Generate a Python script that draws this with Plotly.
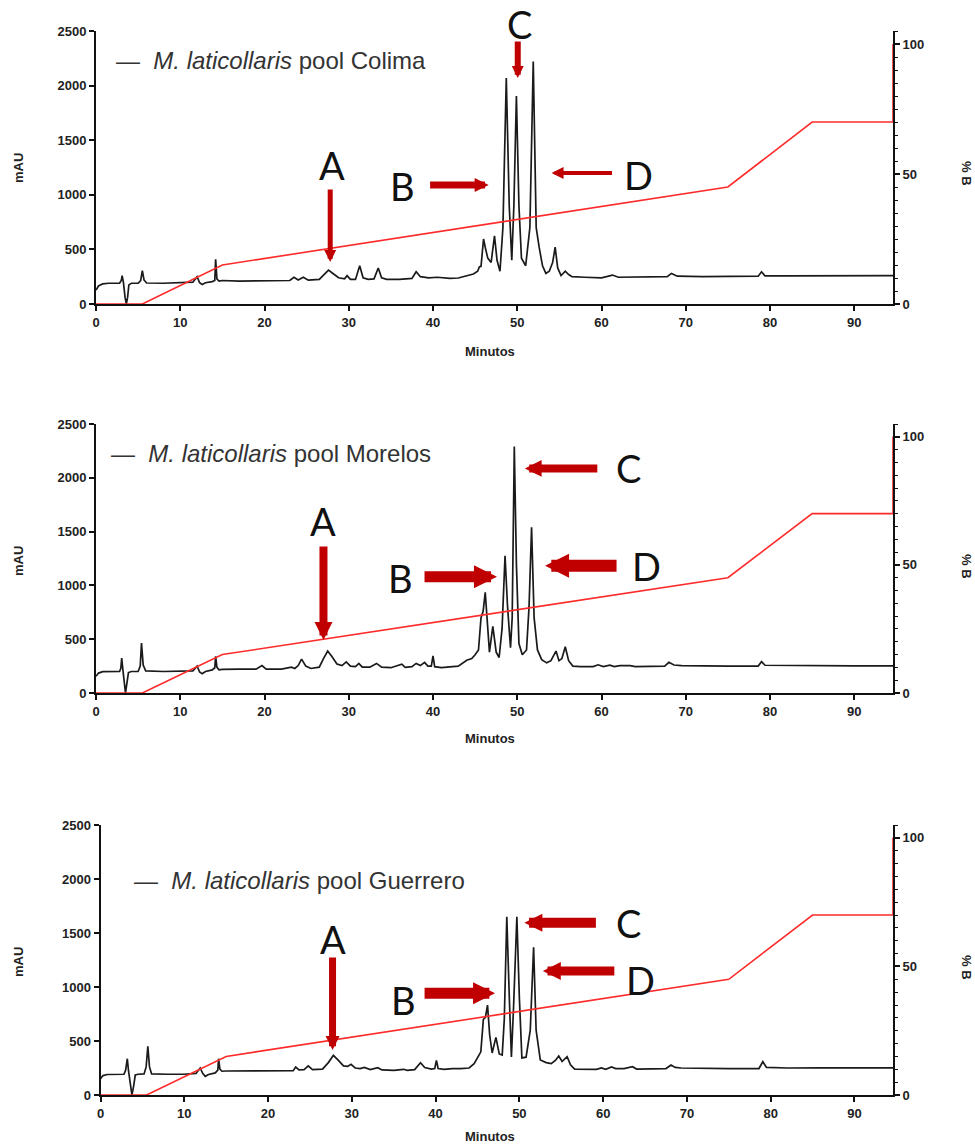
import plotly.graph_objects as go

# ---------------- data ----------------
X_TICKS = [0, 10, 20, 30, 40, 50, 60, 70, 80, 90]
MAU_TICKS = [0, 500, 1000, 1500, 2000, 2500]
B_TICKS = [0, 50, 100]

# solvent gradient (% B vs minutes)
GRADIENT_MIN = [0, 5.5, 15, 75, 85, 94.6, 94.6]
GRADIENT_B = [0, 0, 15, 45, 70, 70, 100]

COLIMA_MIN = [0, 0.3, 0.8, 1.5, 2.8, 3.0, 3.1, 3.25, 3.45, 3.6, 3.75, 3.9, 4.2, 5.0, 5.3, 5.5, 5.7, 6.0,
              8, 10, 11.5, 12.0, 12.3, 12.6, 13.0, 13.8, 14.1, 14.2, 14.35, 14.6, 15, 17, 19, 21, 23, 23.5,
              24, 24.6, 25.2, 26.5, 27.0, 27.6, 28.2, 28.8, 29.5, 29.8, 30.2, 30.8, 31.3, 31.7, 32.3, 33.0,
              33.5, 33.9, 34.5, 36, 37.5, 38.0, 38.5, 39.5, 40.5, 42, 43, 44, 44.8, 45.3, 45.5, 45.7, 46.0,
              46.2, 46.5, 46.9, 47.3, 47.6, 47.95, 48.3, 48.7, 49.05, 49.35, 49.6, 49.9, 50.2, 50.5, 51.0,
              51.5, 51.9, 52.25, 52.6, 53.0, 53.4, 53.8, 54.2, 54.5, 54.8, 55.2, 55.7, 56.1, 56.5, 57.2, 58,
              60, 61.3, 62, 65, 67.8, 68.3, 69, 72, 75, 78.6, 79.0, 79.4, 82, 86, 90, 94.6]
COLIMA_MAU = [128, 165, 185, 190, 190, 215, 260, 200, 60, 0, 60, 175, 190, 190, 215, 305, 220, 192,
              190, 192, 200, 250, 195, 178, 195, 205, 215, 410, 230, 210, 215, 210, 212, 210, 215, 245,
              220, 245, 218, 225, 260, 310, 275, 240, 230, 260, 225, 225, 350, 240, 225, 230,
              330, 240, 225, 225, 235, 295, 250, 240, 245, 235, 238, 255, 275, 300, 340, 345, 595,
              520, 420, 380, 625, 400, 300, 700, 2070, 900, 400, 900, 1905, 900, 420, 350,
              700, 2220, 700, 520, 350, 280, 300, 380, 520, 330, 260, 300, 270, 250, 245, 245,
              240, 265, 245, 245, 250, 280, 255, 250, 252, 255, 295, 258, 258, 260, 260, 260]

MORELOS_MIN = [0, 0.3, 0.8, 1.5, 2.8, 2.95, 3.05, 3.2, 3.35, 3.5, 3.65, 3.85, 4.2, 5.0, 5.25, 5.4, 5.6, 5.9,
               8, 10, 11.5, 12.0, 12.3, 12.6, 13.0, 13.8, 14.1, 14.2, 14.35, 14.6, 15, 17, 19, 19.7, 20.2,
               22, 23.2, 23.6, 24.0, 24.4, 24.9, 25.5, 26.5, 27.0, 27.5, 28.0, 28.6, 29.2, 29.7, 30.2, 30.8,
               31.2, 31.6, 32.5, 33.3, 33.9, 35, 36.3, 36.7, 37.5, 38.0, 38.5, 39.0, 39.4, 39.8, 40.0, 40.2,
               41, 42, 43, 44, 44.6, 45.0, 45.4, 45.7, 45.95, 46.2, 46.45, 46.7, 47.1, 47.5, 47.85, 48.2,
               48.55, 48.85, 49.2, 49.4, 49.65, 49.9, 50.2, 50.6, 51.1, 51.4, 51.7, 52.0, 52.4, 52.9, 53.5,
               54.0, 54.6, 54.95, 55.3, 55.7, 56.1, 56.6, 57.5, 59.0, 59.6, 60.2, 61, 61.5, 62.2, 63.4, 64,
               67.5, 68.0, 68.6, 69.5, 72, 75, 78.6, 79.0, 79.4, 82, 86, 90, 94.6]
MORELOS_MAU = [155, 185, 198, 200, 200, 230, 325, 210, 80, 0, 80, 190, 200, 200, 250, 465, 260, 205,
               200, 200, 205, 250, 195, 180, 200, 215, 235, 340, 240, 215, 220, 222, 222, 255, 222,
               222, 240, 228, 255, 315, 250, 228, 240, 320, 390, 340, 270, 255, 290, 250, 245,
               275, 240, 240, 275, 240, 235, 268, 238, 245, 275, 255, 285, 250, 250, 345, 245,
               235, 240, 250, 305, 320, 355, 400, 700, 760, 935, 600, 380, 620, 380, 330, 600,
               1275, 800, 420, 700, 2290, 1200, 460, 355, 400, 800, 1540, 700, 400, 310, 280,
               300, 390, 300, 320, 430, 300, 250, 245, 245, 262, 245, 258, 246, 255, 255, 245,
               250, 285, 260, 255, 250, 250, 250, 292, 258, 255, 252, 252, 252]

GUERRERO_MIN = [0, 0.3, 0.8, 1.5, 2.8, 3.0, 3.2, 3.35, 3.55, 3.75, 3.95, 4.15, 4.5, 5.2, 5.45, 5.65, 5.85,
                6.1, 8, 10, 11.4, 11.9, 12.2, 12.5, 12.9, 13.7, 14.0, 14.1, 14.25, 14.5, 15, 17, 19, 21, 23,
                23.3, 23.7, 24.3, 24.8, 25.3, 26.5, 27.2, 27.8, 28.4, 29.0, 29.5, 29.9, 30.4, 31.0, 31.5,
                32.2, 33.1, 33.6, 35, 36.2, 36.6, 37.5, 38.2, 38.7, 39.5, 39.9, 40.1, 40.3, 41, 42, 43, 44,
                44.6, 45.0, 45.4, 45.7, 45.95, 46.2, 46.45, 46.75, 47.2, 47.6, 47.95, 48.2, 48.5, 48.8, 49.05,
                49.3, 49.7, 50.0, 50.3, 50.8, 51.3, 51.7, 52.0, 52.5, 53.2, 53.8, 54.3, 54.7, 55.1, 55.7,
                56.1, 56.6, 57.5, 59.2, 59.8, 60.3, 61, 61.5, 62.5, 63.5, 64.0, 67.5, 68.1, 68.6, 69.3, 72,
                75, 78.6, 79.06, 79.5, 82, 86, 90, 94.6]
GUERRERO_MAU = [151, 180, 190, 192, 192, 230, 336, 220, 80, 0, 80, 185, 192, 195, 260, 451, 260,
                195, 192, 192, 200, 250, 200, 173, 190, 205, 230, 336, 240, 220, 222, 222, 224, 222, 225,
                259, 232, 235, 269, 235, 240, 300, 367, 320, 270, 265, 284, 250, 245, 255,
                235, 253, 232, 228, 238, 228, 235, 299, 255, 240, 245, 321, 245, 238, 245, 245, 250,
                290, 352, 400, 700, 720, 833, 560, 389, 534, 380, 370, 700, 1651, 900, 352,
                800, 1651, 900, 343, 350, 600, 1368, 600, 324, 300, 290, 320, 361, 310, 355,
                280, 240, 237, 237, 250, 237, 259, 245, 245, 262, 240, 245, 277, 255, 250, 245,
                245, 245, 308, 255, 250, 252, 252, 252]

SAMPLES = [
    ("Colima", COLIMA_MIN, COLIMA_MAU),
    ("Morelos", MORELOS_MIN, MORELOS_MAU),
    ("Guerrero", GUERRERO_MIN, GUERRERO_MAU),
]

# ---------------- layout geometry (pixels) ----------------
W, H = 975, 1147
PANELS = [
    dict(x0=96, x1=893, top=31, bot=304, xt=351),
    dict(x0=96, x1=893, top=424, bot=693, xt=738),
    dict(x0=100.5, x1=893, top=825, bot=1095, xt=1136),
]
X_MAX = 94.6
B_MAX = 105

TICK_FONT = dict(family="Arial, Liberation Sans, sans-serif", size=13, color="#222", weight="bold")
TITLE_FONT = dict(family="Arial, Liberation Sans, sans-serif", size=13, color="#222", weight="bold")
LETTER_FONT = dict(family="Lato, Open Sans, sans-serif", size=38, color="#111")
LEG_FONT = dict(family="Arial, Liberation Sans, sans-serif", size=24, color="#333")
ARROW_RED = "#C00000"

# annotation placements per panel (pixel centres of letters)
LETTERS_PX = [
    dict(A=(332, 165), B=(402, 186), C=(519, 24), D=(638, 175)),
    dict(A=(323, 521), B=(400, 578), C=(628, 468), D=(646, 566)),
    dict(A=(333, 939), B=(403, 1000), C=(628, 923), D=(640, 980)),
]
ARROWS = [
    [dict(x=27.8, y=385, ax=0, ay=-74, w=5, s=0.48),
     dict(x=46.6, y=1090, ax=-60, ay=0, w=7, s=0.4),
     dict(x=50.06, y=2070, ax=0, ay=-38, w=6, s=0.4),
     dict(x=54.07, y=1200, ax=62, ay=0, w=4, s=0.6)],
    [dict(x=27.0, y=492, ax=0, ay=-95, w=8, s=0.45),
     dict(x=47.6, y=1080, ax=-74, ay=0, w=11, s=0.42),
     dict(x=50.9, y=2087, ax=74, ay=0, w=8, s=0.42),
     dict(x=53.3, y=1183, ax=73, ay=0, w=12, s=0.4)],
    [dict(x=27.7, y=417, ax=0, ay=-94, w=7, s=0.4),
     dict(x=47.1, y=942, ax=-72, ay=0, w=11, s=0.4),
     dict(x=50.6, y=1595, ax=73, ay=0, w=10, s=0.36),
     dict(x=52.8, y=1148, ax=73, ay=0, w=9, s=0.4)],
]
LEGEND_PX = [(114, 60), (109, 453), (132, 880)]

fig = go.Figure()
layout = dict(width=W, height=H, margin=dict(l=0, r=0, t=0, b=0, pad=0, autoexpand=False),
              paper_bgcolor="white", plot_bgcolor="white", showlegend=False)
annotations = []


def paper(px, py):
    return px / W, 1 - py / H


for i, (p, (name, tmin, mau)) in enumerate(zip(PANELS, SAMPLES)):
    xa = "x" if i == 0 else f"x{i+1}"
    ya_n = 2 * i + 1
    yb_n = 2 * i + 2
    ya = "y" if ya_n == 1 else f"y{ya_n}"
    yb = f"y{yb_n}"
    xkey = "xaxis" if i == 0 else f"xaxis{i+1}"
    yakey = "yaxis" if ya_n == 1 else f"yaxis{ya_n}"
    ybkey = f"yaxis{yb_n}"

    xdom = [p["x0"] / W, p["x1"] / W]
    ydom = [1 - p["bot"] / H, 1 - p["top"] / H]

    common = dict(showline=True, linecolor="#111", linewidth=2, ticks="outside",
                  ticklen=5, tickwidth=1.5, tickcolor="#111", tickfont=TICK_FONT,
                  showgrid=False, zeroline=False, automargin=False)
    layout[xkey] = dict(domain=xdom, anchor=ya, range=[0, X_MAX], tickvals=X_TICKS, **common)
    layout[yakey] = dict(domain=ydom, anchor=xa, range=[0, 2500], tickvals=MAU_TICKS, **common)
    layout[ybkey] = dict(domain=ydom, anchor=xa, overlaying=ya, side="right",
                         range=[0, B_MAX], tickvals=B_TICKS,
                         minor=dict(dtick=5, ticklen=3, tickwidth=1.2, tickcolor="#111", ticks="outside"),
                         layer="below traces", **common)

    fig.add_trace(go.Scatter(x=GRADIENT_MIN, y=GRADIENT_B, xaxis=xa, yaxis=yb, mode="lines",
                             line=dict(color="#FF2B2B", width=1.6), hoverinfo="skip"))
    fig.add_trace(go.Scatter(x=tmin, y=mau, xaxis=xa, yaxis=ya, mode="lines",
                             line=dict(color="#1a1a1a", width=1.7), name=name))

    centre = dict(xref="paper", yref="paper", xanchor="center", yanchor="middle", showarrow=False)
    # axis titles
    px_, py_ = paper(18, p["top"] + 137)
    annotations.append(dict(x=px_, y=py_, text="mAU", textangle=-90, font=TITLE_FONT, **centre))
    px_, py_ = paper(967, p["top"] + 142)
    annotations.append(dict(x=px_, y=py_, text="% B", textangle=90, font=TITLE_FONT, **centre))
    px_, py_ = paper(490, p["xt"])
    annotations.append(dict(x=px_, y=py_, text="Minutos", font=TITLE_FONT, **centre))
    # legend text
    lx, ly = paper(*LEGEND_PX[i])
    annotations.append(dict(x=lx, y=ly, xref="paper", yref="paper", xanchor="left", yanchor="middle",
                            text=f"—  <i>M. laticollaris</i> pool {name}", showarrow=False, font=LEG_FONT))
    # letters
    for letter, (lpx, lpy) in LETTERS_PX[i].items():
        lx, ly = paper(lpx, lpy)
        annotations.append(dict(x=lx, y=ly, text=letter, font=LETTER_FONT, **centre))
    # arrows
    for a in ARROWS[i]:
        annotations.append(dict(x=a["x"], y=a["y"], xref=xa, yref=ya, ax=a["ax"], ay=a["ay"],
                                text="", showarrow=True, arrowhead=2, arrowsize=a["s"],
                                arrowwidth=a["w"], arrowcolor=ARROW_RED, standoff=0))

layout["annotations"] = annotations
fig.update_layout(**layout)
fig.write_html("out.html")
